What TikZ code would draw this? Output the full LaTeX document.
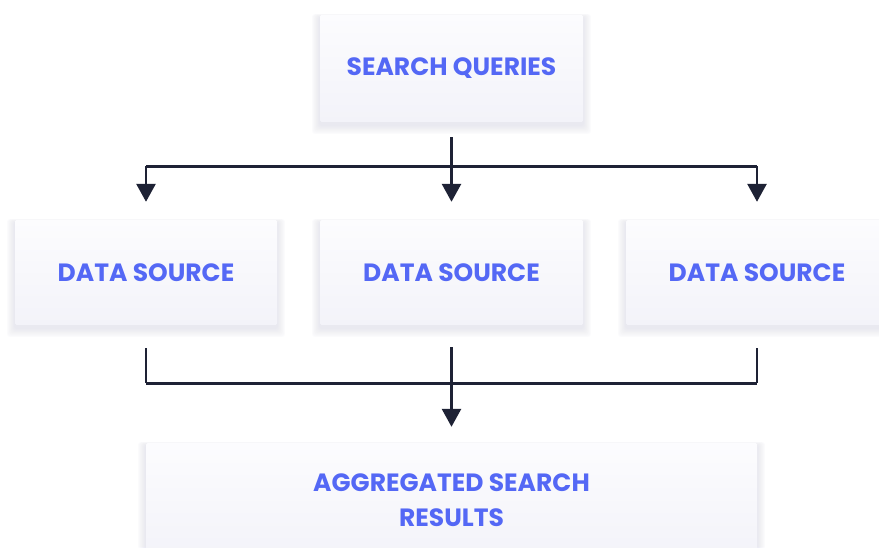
\documentclass[tikz,border=0pt]{standalone}
\usepackage{fontspec}
\setmainfont{Poppins}
\usetikzlibrary{arrows.meta,calc,backgrounds}
\definecolor{txtblue}{HTML}{5468F5}
\definecolor{linecol}{HTML}{1E2235}
\definecolor{boxtop}{HTML}{FCFCFE}
\definecolor{boxbot}{HTML}{F3F3F9}
\definecolor{shadowcol}{HTML}{5050A0}
\tikzset{
  x=1pt, y=1pt,
  card/.style={rectangle, rounded corners=1.5pt, top color=boxtop, bottom color=boxbot,
    draw=none, font=\bfseries\fontsize{25}{35}\selectfont, text=txtblue, align=center,
    inner sep=0pt},
  conn/.style={line width=2.8pt, draw=linecol},
  arr/.style={conn, -{Triangle[width=19pt,length=18pt]}},
}
\newcommand{\softshadow}[1]{%
  \foreach \i in {1,...,10}{
    \fill[shadowcol, opacity=0.012, rounded corners=3pt]
      ($(#1.south west)+(-\i*0.8,-3-\i*0.9)$) rectangle ($(#1.north east)+(\i*0.8,-2+\i*0.3)$);
  }}
\begin{document}
\begin{tikzpicture}
\useasboundingbox (0,0) rectangle (879,547);
\clip (0,0) rectangle (879,547);
% nodes
\node[card, minimum width=263pt, minimum height=107pt] (sq) at (451.5,478.5) {SEARCH QUERIES};
\node[card, minimum width=262pt, minimum height=105pt] (ds1) at (146,274.5) {DATA SOURCE};
\node[card, minimum width=263pt, minimum height=105pt] (ds2) at (451.5,274.5) {DATA SOURCE};
\node[card, minimum width=262pt, minimum height=105pt] (ds3) at (757,274.5) {DATA SOURCE};
\node[card, minimum width=611pt, minimum height=114pt] (agg) at (451.5,47) {AGGREGATED SEARCH\\RESULTS};
\begin{scope}[on background layer]
  \fill[white] (0,0) rectangle (879,547);
  \softshadow{sq}\softshadow{ds1}\softshadow{ds2}\softshadow{ds3}\softshadow{agg}
\end{scope}
% connectors: top fan-out
\coordinate (j1) at ($(sq.south)+(0,-44)$);
\draw[arr, shorten <=15pt, shorten >=18pt] (sq.south) -- (ds2.north);
\draw[conn] (j1 -| ds1.north) -- (j1 -| ds3.north);
\draw[arr, shorten >=18pt] (j1 -| ds1.north) -- (ds1.north);
\draw[arr, shorten >=18pt] (j1 -| ds3.north) -- (ds3.north);
% bottom fan-in
\coordinate (j2) at ($(ds2.south)+(0,-58)$);
\draw[conn, shorten <=23pt] (ds1.south) -- (ds1.south |- j2);
\draw[conn, shorten <=23pt] (ds3.south) -- (ds3.south |- j2);
\draw[conn] (ds1.south |- j2) -- (ds3.south |- j2);
\draw[arr, shorten <=22pt, shorten >=16pt] (ds2.south) -- (agg.north);
\end{tikzpicture}
\end{document}
